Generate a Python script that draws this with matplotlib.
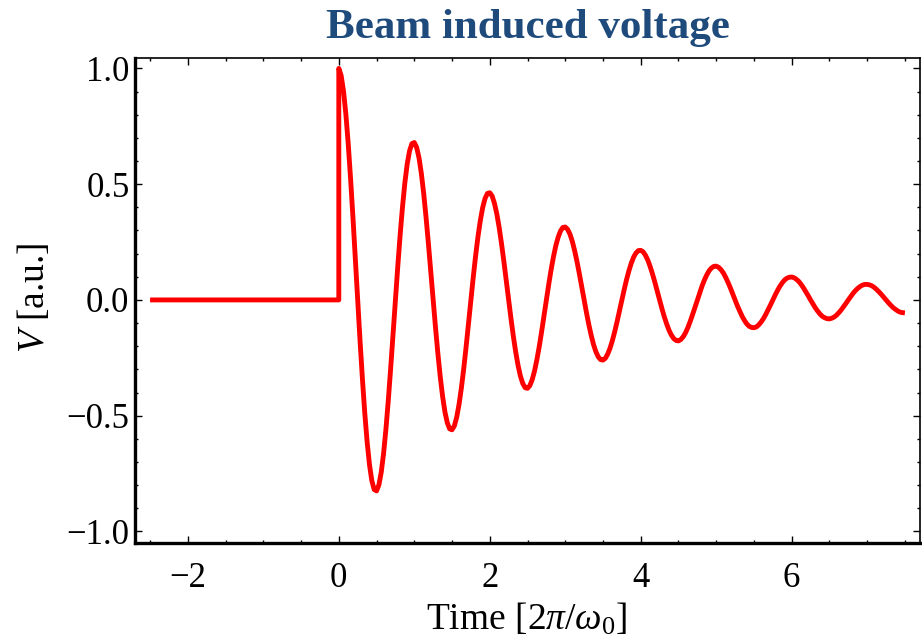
import numpy as np
import matplotlib
matplotlib.use("Agg")
import matplotlib.pyplot as plt
from matplotlib.ticker import MultipleLocator, FixedLocator

plt.rcParams['font.family'] = ['Liberation Serif', 'DejaVu Serif']
plt.rcParams['mathtext.fontset'] = 'custom'
plt.rcParams['mathtext.rm'] = 'Liberation Serif'
plt.rcParams['mathtext.it'] = 'Liberation Serif:italic'

# ---- data ----
title = "Beam induced voltage"
xlabel = r"Time [2$\mathit{π}/\mathit{ω}_0$]"
ylabel = "$V$ [a.u.]"

# before the bunch passage: no voltage
t_before = [-2.5, 0.0]
v_before = [0.0, 0.0]

# after passage: samples every 1/32 of a period, t = 0 ... 7.5
t_start, t_end = 0.0, 7.5
v_after = [
    # period 0
    1.000, 0.969, 0.902, 0.802, 0.674, 0.523, 0.356, 0.179,
    0.000, -0.175, -0.339, -0.487, -0.612, -0.711, -0.781, -0.819,
    -0.825, -0.799, -0.744, -0.662, -0.556, -0.432, -0.294, -0.148,
    0.000, 0.144, 0.280, 0.401, 0.505, 0.587, 0.644, 0.675,
    # period 1
    0.680, 0.659, 0.614, 0.546, 0.459, 0.356, 0.242, 0.122,
    0.000, -0.119, -0.231, -0.331, -0.416, -0.484, -0.531, -0.557,
    -0.561, -0.544, -0.506, -0.450, -0.378, -0.294, -0.200, -0.101,
    0.000, 0.098, 0.190, 0.273, 0.343, 0.399, 0.438, 0.460,
    # period 2
    0.463, 0.449, 0.417, 0.371, 0.312, 0.242, 0.165, 0.083,
    0.000, -0.081, -0.157, -0.225, -0.283, -0.329, -0.361, -0.379,
    -0.382, -0.370, -0.344, -0.306, -0.257, -0.200, -0.136, -0.068,
    0.000, 0.067, 0.130, 0.186, 0.234, 0.271, 0.298, 0.313,
    # period 3
    0.315, 0.305, 0.284, 0.253, 0.212, 0.165, 0.112, 0.056,
    0.000, -0.055, -0.107, -0.153, -0.193, -0.224, -0.246, -0.258,
    -0.260, -0.252, -0.234, -0.208, -0.175, -0.136, -0.093, -0.047,
    0.000, 0.045, 0.088, 0.126, 0.159, 0.185, 0.203, 0.213,
    # period 4
    0.214, 0.208, 0.193, 0.172, 0.144, 0.112, 0.076, 0.038,
    0.000, -0.038, -0.073, -0.104, -0.131, -0.152, -0.167, -0.175,
    -0.177, -0.171, -0.159, -0.142, -0.119, -0.092, -0.063, -0.032,
    0.000, 0.031, 0.060, 0.086, 0.108, 0.126, 0.138, 0.145,
    # period 5
    0.146, 0.141, 0.131, 0.117, 0.098, 0.076, 0.052, 0.026,
    0.000, -0.026, -0.049, -0.071, -0.089, -0.104, -0.114, -0.119,
    -0.120, -0.117, -0.108, -0.096, -0.081, -0.063, -0.043, -0.022,
    0.000, 0.021, 0.041, 0.059, 0.074, 0.086, 0.094, 0.098,
    # period 6
    0.099, 0.096, 0.089, 0.080, 0.067, 0.052, 0.035, 0.018,
    0.000, -0.017, -0.034, -0.048, -0.061, -0.071, -0.077, -0.081,
    -0.082, -0.079, -0.074, -0.066, -0.055, -0.043, -0.029, -0.015,
    0.000, 0.014, 0.028, 0.040, 0.050, 0.058, 0.064, 0.067,
    # period 7 (first half)
    0.067, 0.065, 0.061, 0.054, 0.045, 0.035, 0.024, 0.012,
    0.000, -0.012, -0.023, -0.033, -0.041, -0.048, -0.053, -0.055,
    -0.056,
]

x_major = [-2, 0, 2, 4, 6]
y_major = [-1.0, -0.5, 0.0, 0.5, 1.0]
x_ticklabels = ['−2', '0', '2', '4', '6']
y_ticklabels = ['−1.0', '−0.5', '0.0', '0.5', '1.0']

# ---- figure ----
W, H = 922, 641
fig = plt.figure(figsize=(W/100, H/100), dpi=100)
ax = fig.add_axes([135/W, 1 - 543/H, (920-135)/W, (543-58)/H])

t_after = np.linspace(t_start, t_end, len(v_after))
t_all = np.concatenate([t_before, t_after])
v_all = np.concatenate([v_before, v_after])
ax.plot(t_all, v_all, color='#ff0000', lw=3.5, solid_joinstyle='round',
        solid_capstyle='butt')

ax.set_xlim(-2.7, 7.7)
ax.set_ylim(-1.05, 1.045)

ax.xaxis.set_major_locator(FixedLocator(x_major))
ax.xaxis.set_minor_locator(MultipleLocator(0.5))
ax.yaxis.set_major_locator(FixedLocator(y_major))
ax.yaxis.set_minor_locator(MultipleLocator(0.1))
ax.set_xticklabels(x_ticklabels)
ax.set_yticklabels(y_ticklabels)

ax.tick_params(which='both', direction='in', top=True, right=True,
               width=1.0, color='black', labelsize=25, pad=4)
ax.tick_params(which='major', length=5)
ax.tick_params(which='minor', length=2.5)
ax.tick_params(axis='x', pad=14)

for s in ['left', 'bottom']:
    ax.spines[s].set_linewidth(2.4)
for s in ['top', 'right']:
    ax.spines[s].set_linewidth(1.2)

fig.text(527/W, 1 - 630/H, xlabel, ha='center', va='baseline', fontsize=27)
fig.text(34/W, 1 - 298/H, ylabel, ha='center', va='center', fontsize=27,
         rotation=90)

fig.text(528/W, 1 - 38/H, title, ha='center', va='baseline',
         fontsize=31, fontweight='bold', color='#1f4b7c')

fig.savefig('out.png', dpi=100)
